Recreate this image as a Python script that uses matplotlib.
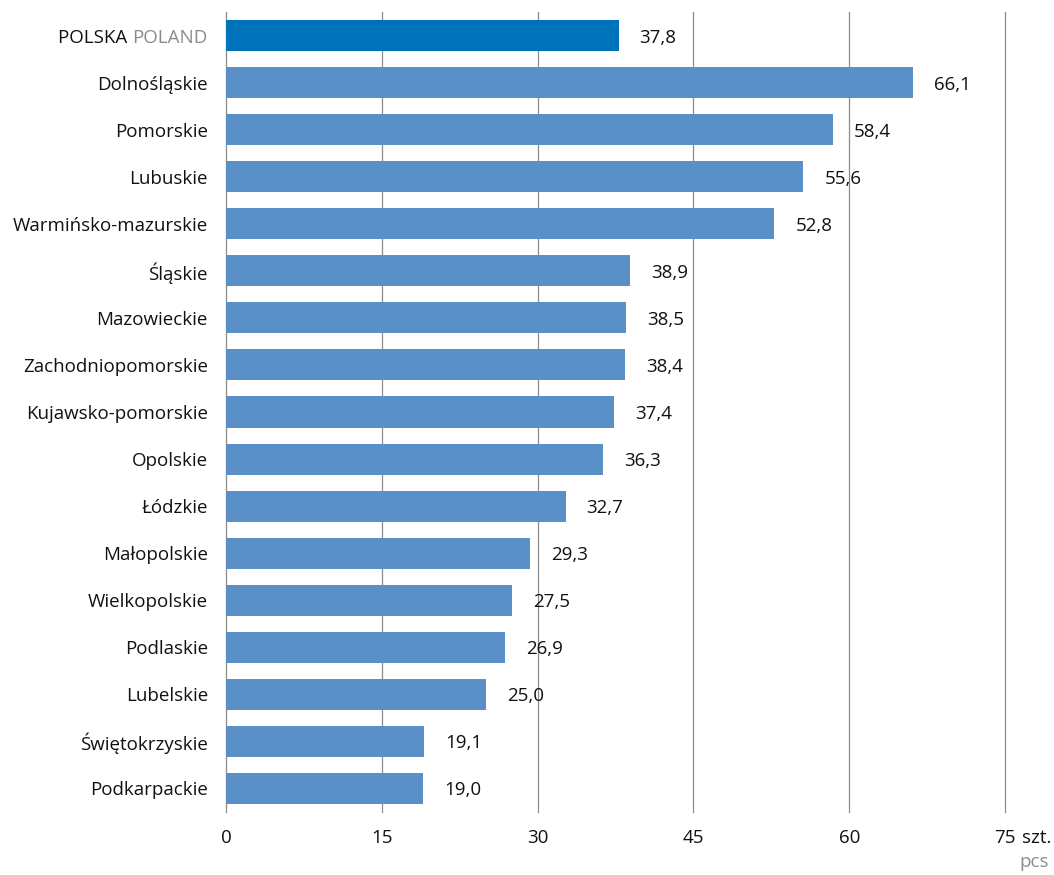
import matplotlib.pyplot as plt

regiony = ['POLSKA', 'Dolnośląskie', 'Pomorskie', 'Lubuskie', 'Warmińsko-mazurskie',
           'Śląskie', 'Mazowieckie', 'Zachodniopomorskie', 'Kujawsko-pomorskie',
           'Opolskie', 'Łódzkie', 'Małopolskie', 'Wielkopolskie', 'Podlaskie',
           'Lubelskie', 'Świętokrzyskie', 'Podkarpackie']
wartosci = [37.8, 66.1, 58.4, 55.6, 52.8, 38.9, 38.5, 38.4, 37.4, 36.3,
            32.7, 29.3, 27.5, 26.9, 25.0, 19.1, 19.0]
ticki = [0, 15, 30, 45, 60, 75]

plt.rcParams['font.family'] = ['Open Sans', 'DejaVu Sans']
plt.rcParams['font.size'] = 13.5

W, H = 1054, 875
fig = plt.figure(figsize=(W / 100, H / 100), dpi=100)
ax = fig.add_axes([226 / W, 1 - 812 / H, (1005 - 226) / W, 800 / H])

kolory = ['#0072bc'] + ['#5b8fc8'] * (len(regiony) - 1)
pozycje = list(range(len(regiony)))
ax.barh(pozycje, wartosci, height=0.66, color=kolory, zorder=3)

for y, v in zip(pozycje, wartosci):
    ax.annotate(f'{v:.1f}'.replace('.', ','), xy=(v, y), xytext=(21, 0),
                textcoords='offset pixels', ha='left', va='center_baseline', color='#111111')

ax.set_xlim(0, 75)
ax.set_ylim(len(regiony) - 0.5, -0.5)
ax.set_xticks(ticki)
ax.set_xticklabels([str(t) for t in ticki])
ax.set_yticks(pozycje)
ax.set_yticklabels([''] + regiony[1:])
ax.tick_params(axis='both', length=0, colors='#111111')
ax.tick_params(axis='y', pad=13)
ax.tick_params(axis='x', pad=12)
ax.grid(axis='x', color='#8c8c8c', linewidth=0.9, zorder=0)
for linia in ax.get_xgridlines():
    linia.set_clip_on(False)
for s in ax.spines.values():
    s.set_visible(False)

# etykieta pierwszego slupka w dwoch kolorach
t_pl = ax.annotate('POLAND', xy=(0, 0), xytext=(-18, 0), textcoords='offset pixels',
                   ha='right', va='center_baseline', color='#8c8c8c')
ax.annotate('POLSKA ', xy=(0, 0), xycoords=t_pl, ha='right', va='bottom',
            color='#111111')

# jednostki
ax.annotate('szt.', xy=(75, 0), xycoords=('data', 'axes fraction'), xytext=(17, -26),
            textcoords='offset pixels', ha='left', va='center', color='#111111')
fig.text(1049 / W, 1 - 862 / H, 'pcs', ha='right', va='center', color='#8c8c8c')

fig.savefig('out.png', dpi=100)
